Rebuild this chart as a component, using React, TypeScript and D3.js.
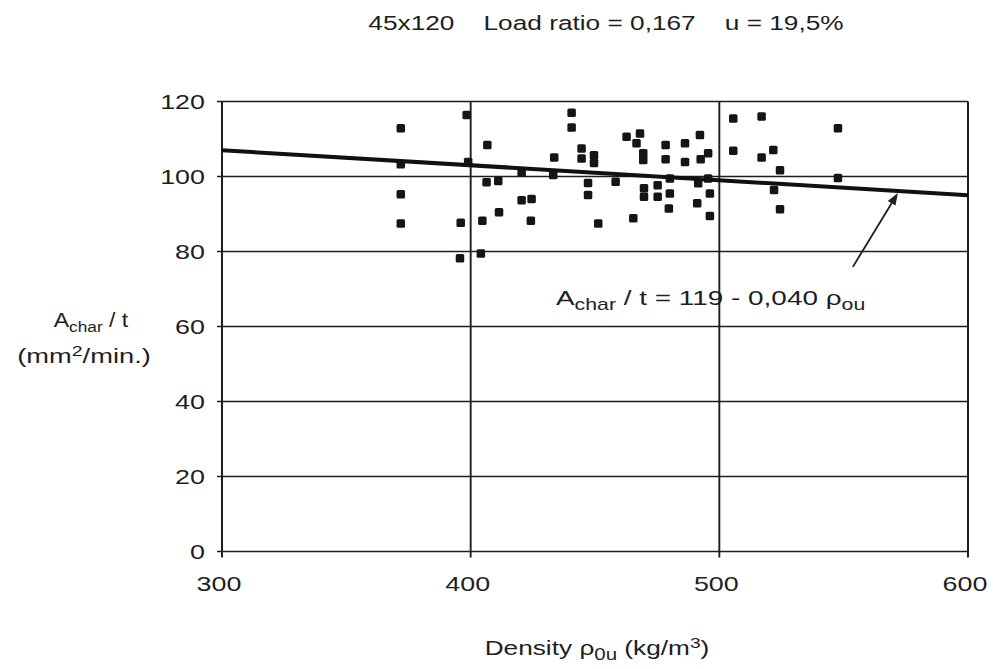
import React from "react";
import * as d3 from "d3";

const densities: number[] = [
  371.9, 371.9, 371.9, 371.9, 396.0, 395.7, 398.4, 399.0,
  404.1, 406.7, 406.4, 411.1, 404.7, 411.4, 420.5, 424.5, 424.2, 420.5, 433.6, 433.2, 440.6, 440.6,
  444.6, 444.6, 449.6, 449.6, 447.2, 447.2, 451.3, 458.3, 462.7, 468.1, 466.7, 469.4, 469.4, 469.7, 469.7,
  465.4, 475.2, 475.2, 478.4, 478.4, 480.1, 480.1, 479.7,
  486.2, 486.2, 492.2, 492.5, 495.5, 491.5, 495.5, 496.2, 491.1, 496.2,
  505.6, 517.0, 505.6, 517.0, 521.7, 524.4, 522.0, 524.4, 547.7, 547.7,
];
const rates: number[] = [
  112.9, 103.3, 95.3, 87.5, 87.7, 78.2, 116.4, 103.9,
  79.5, 108.4, 98.5, 98.8, 88.2, 90.5, 93.7, 94.0, 88.2, 101.0, 105.1, 100.4, 117.0, 113.1,
  107.5, 104.8, 105.7, 103.6, 98.3, 95.1, 87.5, 98.6, 110.6, 111.5, 108.9, 106.2, 104.4, 96.9, 94.6,
  88.9, 97.7, 94.6, 108.4, 104.6, 99.5, 95.5, 91.5,
  108.9, 103.9, 111.1, 104.6, 106.2, 98.2, 99.5, 95.5, 92.9, 89.5,
  115.5, 116.0, 106.9, 105.1, 107.1, 101.7, 96.4, 91.3, 112.9, 99.6,
];
const xTicks: number[] = [300, 400, 500, 600];
const yTicks: number[] = [0, 20, 40, 60, 80, 100, 120];
const fitIntercept = 119;
const fitSlope = -0.04;
const arrowFrom: [number, number] = [553.7, 75.9];
const arrowTo: [number, number] = [571.8, 95.6];

const FONT = "'Liberation Sans', Arial, Helvetica, sans-serif";
const INK = "#1e1e1e";

export default function App() {
  const x = d3.scaleLinear().domain([300, 600]).range([222, 968]);
  const y = d3.scaleLinear().domain([0, 120]).range([551.5, 101.5]);
  const line = d3.line<number>().x((d) => x(d)).y((d) => y(fitIntercept + fitSlope * d));
  const sx = 1.28;
  const ms = 8.5;

  const ax1 = x(arrowFrom[0]), ay1 = y(arrowFrom[1]);
  const ax2 = x(arrowTo[0]), ay2 = y(arrowTo[1]);
  const ang = Math.atan2(ay2 - ay1, ax2 - ax1);
  const hl = 12, hw = 4.5;
  const bx = ax2 - hl * Math.cos(ang), by = ay2 - hl * Math.sin(ang);
  const head = `M${ax2},${ay2} L${bx + hw * Math.sin(ang)},${by - hw * Math.cos(ang)} L${bx - hw * Math.sin(ang)},${by + hw * Math.cos(ang)} Z`;

  return (
    <svg width={996} height={669} style={{ position: "absolute", left: 0, top: 0, background: "#fff" }} fontFamily={FONT}>
      <rect x={0} y={0} width={996} height={669} fill="#fff" />
      {/* title */}
      <g transform={`translate(606,30) scale(${sx},1)`}>
        <text textAnchor="middle" fontSize={20.5} fill={INK} xmlSpace="preserve">
          {"45x120    Load ratio = 0,167    u = 19,5%"}
        </text>
      </g>
      {/* gridlines */}
      {yTicks.map((t) => (
        <line key={"gy" + t} x1={x(300) - 5} x2={x(600)} y1={y(t)} y2={y(t)} stroke={INK} strokeWidth={1.7} />
      ))}
      {xTicks.map((t) => (
        <line key={"gx" + t} x1={x(t)} x2={x(t)} y1={y(120)} y2={y(0) + 6} stroke={INK} strokeWidth={t === 300 || t === 600 ? 2 : 1.9} />
      ))}
      {/* y tick labels */}
      {yTicks.map((t) => (
        <g key={"ly" + t} transform={`translate(205,${y(t) + 7.5}) scale(${sx},1)`}>
          <text textAnchor="end" fontSize={21} fill={INK}>{t}</text>
        </g>
      ))}
      {/* x tick labels */}
      {xTicks.map((t) => (
        <g key={"lx" + t} transform={`translate(${x(t) - 3},${591}) scale(${sx},1)`}>
          <text textAnchor="middle" fontSize={21} fill={INK}>{t}</text>
        </g>
      ))}
      {/* points */}
      {densities.map((d, i) => (
        <rect key={"p" + i} x={x(d) - ms / 2} y={y(rates[i]) - ms / 2} width={ms} height={ms} rx={1.5} fill="#151515" />
      ))}
      {/* fit line */}
      <path d={line([300, 600]) || ""} stroke="#111" strokeWidth={4} fill="none" />
      {/* arrow */}
      <line x1={ax1} y1={ay1} x2={bx} y2={by} stroke={INK} strokeWidth={1.8} />
      <path d={head} fill={INK} />
      {/* equation */}
      <g transform={`translate(556,305) scale(1.33,1)`}>
        <text fontSize={21} fill={INK}>
          <tspan>A</tspan>
          <tspan fontSize={16} dy={5}>char</tspan>
          <tspan dy={-5}>{" / t = 119 - 0,040 "}</tspan>
          <tspan>ρ</tspan>
          <tspan fontSize={16} dy={5}>ou</tspan>
        </text>
      </g>
      {/* y axis title */}
      <g transform={`translate(91,327) scale(1.15,1)`}>
        <text textAnchor="middle" fontSize={20} fill={INK}>
          <tspan>A</tspan>
          <tspan fontSize={15} dy={5}>char</tspan>
          <tspan dy={-5}>{" / t"}</tspan>
        </text>
      </g>
      <g transform={`translate(84,363) scale(1.3,1)`}>
        <text textAnchor="middle" fontSize={21} fill={INK}>
          <tspan>(mm</tspan>
          <tspan fontSize={15} dy={-7}>2</tspan>
          <tspan dy={7}>/min.)</tspan>
        </text>
      </g>
      {/* x axis title */}
      <g transform={`translate(597,655) scale(${sx},1)`}>
        <text textAnchor="middle" fontSize={20.5} fill={INK}>
          <tspan>{"Density "}</tspan>
          <tspan>ρ</tspan>
          <tspan fontSize={16} dy={5}>0u</tspan>
          <tspan dy={-5}>{" (kg/m"}</tspan>
          <tspan fontSize={15} dy={-7}>3</tspan>
          <tspan dy={7}>)</tspan>
        </text>
      </g>
    </svg>
  );
}
